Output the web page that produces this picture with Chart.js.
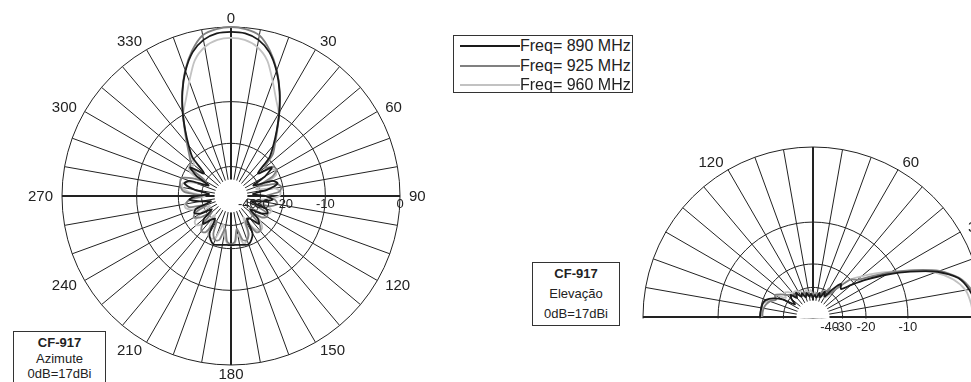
<!DOCTYPE html>
<html>
<head>
<meta charset="utf-8">
<title>CF-917 diagramas de radiação</title>
<script src="https://cdn.jsdelivr.net/npm/chart.js@4/dist/chart.umd.min.js"></script>
<style>
  html, body { margin: 0; padding: 0; background: #fff; width: 971px; height: 382px; overflow: hidden;
    font-family: "Liberation Sans", Arial, sans-serif; color: #222; }
  #azWrap { position: absolute; left: 0; top: 0; width: 462px; height: 382px; }
  #elWrap { position: absolute; left: 633px; top: 137px; width: 360px; height: 360px; }
  .tag { position: absolute; border: 1px solid #333; background: #fff; text-align: center; font-size: 13px; box-sizing: border-box; }
  .tag b { font-weight: bold; }
  #azTag { left: 13px; top: 331px; width: 93px; height: 70px; line-height: 15.5px; padding-top: 3px; }
  #elTag { left: 532px; top: 262px; width: 88px; height: 64px; line-height: 20px; padding-top: 1px; }
  #legend { position: absolute; left: 453px; top: 35px; width: 180px; height: 58px; border: 1px solid #333; box-sizing: border-box; background: #fff; }
  .row { position: absolute; left: 0; width: 180px; height: 20px; }
  .row .ln { position: absolute; left: 6px; top: 9px; width: 60px; height: 2px; }
  .row .tx { position: absolute; left: 66px; top: 0; font-size: 16px; line-height: 20px; white-space: nowrap; }
</style>
</head>
<body>
<div id="azWrap"><canvas id="az"></canvas></div>
<div id="elWrap"><canvas id="el"></canvas></div>
<div id="legend"></div>
<div class="tag" id="azTag"><b>CF-917</b><br>Azimute<br>0dB=17dBi</div>
<div class="tag" id="elTag"><b>CF-917</b><br>Elevação<br>0dB=17dBi</div>
<script>
// ---- series names and colours ----
const seriesNames = ['Freq= 890 MHz', 'Freq= 925 MHz', 'Freq= 960 MHz'];
const seriesColors = ['#1a1a1a', '#808080', '#c2c2c2'];

// ---- radial ticks (dB) ----
const ringTicks = [-40, -30, -20, -10, 0];

// ---- azimuth cut: angle (deg, clockwise from 0) and relative gain (dB) ----
const azAngles = [0, 5, 10, 15, 20, 25, 30, 35, 40, 45, 50, 55, 60, 65, 70, 75, 80, 85,
  90, 95, 100, 105, 110, 115, 120, 125, 130, 135, 140, 145, 150, 155, 160, 165, 170, 175,
  180, 185, 190, 195, 200, 205, 210, 215, 220, 225, 230, 235, 240, 245, 250, 255, 260, 265,
  270, 275, 280, 285, 290, 295, 300, 305, 310, 315, 320, 325, 330, 335, 340, 345, 350, 355];
const azLabelsShown = [0, 30, 60, 90, 120, 150, 180, 210, 240, 270, 300, 330];

const az890 = [-0.5, -0.6, -1.1, -2.2, -4.1, -6.6, -9.6, -12.9, -16.2, -19.5, -27, -21, -25, -33, -23, -21.5, -26, -35,
  -27, -24, -29, -36, -26, -24.5, -27, -34, -27, -25, -30, -31, -23.5, -21.5, -20.4, -20.7, -21, -21.2,
  -21.2, -21.2, -21, -20.7, -20.4, -21.5, -23.5, -31, -29, -25, -27, -34, -27, -24.5, -26, -36, -29, -24,
  -27, -35, -26, -21.5, -23, -33, -25, -21, -27, -19.5, -16.2, -12.9, -9.6, -6.6, -4.1, -2.2, -1.1, -0.6];

const az925 = [0, -0.15, -0.6, -2.0, -4.0, -6.6, -9.6, -12.8, -15.5, -18, -23, -20.5, -20, -22.5, -30, -22, -20.5, -21.5,
  -27, -23, -22, -25, -33, -25, -24, -26, -33, -24.5, -22.5, -23, -30, -24, -22, -22.5, -28, -22.5,
  -21.5, -22.5, -28, -22.5, -22, -24, -30, -23, -22.3, -24.5, -33, -26, -23.5, -25, -32, -23.5, -22.5, -24,
  -30, -22, -20.5, -20, -20, -24, -30, -21, -20, -18, -15.5, -12.8, -9.6, -6.6, -4.0, -2.0, -0.6, -0.15];

const az960 = [-1.15, -1.3, -1.9, -3.2, -5.6, -7.9, -9.8, -12.6, -15.6, -19, -26, -22, -20.5, -21, -26, -32, -23, -21,
  -21.5, -26, -33, -26, -23.5, -24, -28, -35, -26, -23, -22.5, -25, -33, -25, -22, -21, -25, -22,
  -21, -22, -25, -30, -23, -22, -22.5, -26, -33, -25, -22.5, -23, -27, -34, -25, -22, -22, -25,
  -32, -24, -21, -21, -25, -31, -22, -20.5, -21.5, -19, -15.6, -12.6, -9.8, -7.9, -5.6, -3.2, -1.9, -1.3];

// ---- elevation cut: angle above horizon (deg) and relative gain (dB) ----
const elAngles = [0, 5, 10, 15, 20, 25, 30, 35, 40, 45, 50, 55, 60, 65, 70, 75, 80, 85, 90,
  95, 100, 105, 110, 115, 120, 125, 130, 135, 140, 145, 150, 155, 160, 165, 170, 175, 180];
const elLabelsShown = [30, 60, 120];

const el890 = [-0.5, -0.7, -1.2, -2.1, -4.3, -7.9, -12.0, -16.5, -21, -25, -23.5, -28, -34, -31, -36, -33, -37, -35, -37,
  -34, -36, -33, -36, -32, -34, -30, -33, -29, -31, -35, -27, -23.2, -21, -20.3, -20.2, -20.1, -20.0];

const el925 = [-0.3, -0.5, -1.0, -2.0, -4.0, -7.3, -11.2, -15.0, -18.5, -20, -26, -31, -28, -33, -31, -36, -33, -35, -34,
  -37, -33, -35, -32, -34, -33, -31.5, -31, -29, -27.5, -25, -23.2, -24.5, -22.5, -21.5, -21, -20.8, -20.8];

const el960 = [-1.0, -1.2, -1.6, -2.7, -4.6, -7.6, -10.8, -13.8, -17, -20, -26, -32, -35, -32, -36, -34, -37, -33, -35,
  -31.5, -33, -31, -34, -31, -30, -29, -29, -27, -26, -28, -23.3, -24, -22, -20.4, -20.5, -20.6, -20.6];

// ---- radial scale with the logarithmic (ARRL) dB spacing ----
class ArrlRadialScale extends Chart.RadialLinearScale {
  getDistanceFromCenterForValue(value) {
    if (value === null || value === undefined || isNaN(value)) return NaN;
    return this.drawingArea * Math.pow(0.89, -value / 2);
  }
}
ArrlRadialScale.id = 'arrlRadial';
Chart.register(ArrlRadialScale);

const FONT = '"Liberation Sans", Arial, sans-serif';

function radialScaleOptions() {
  return {
    type: 'arrlRadial',
    min: -40, max: 0, startAngle: 0,
    ticks: { display: false, stepSize: 10 },
    pointLabels: { display: false },
    grid: {
      color: (c) => (c.tick && c.tick.value === -40) ? 'rgba(0,0,0,0)' : '#222',
      lineWidth: 1
    },
    angleLines: {
      color: '#222',
      lineWidth: (c) => (c.index % 2 !== 0) ? 0 : (c.index % 18 === 0 ? 2 : 1)
    }
  };
}

function makeDatasets(seriesList) {
  return seriesList.map((data, k) => ({
    label: seriesNames[k],
    data: data,
    borderColor: seriesColors[k],
    backgroundColor: seriesColors[k],
    borderWidth: 1.8,
    fill: false,
    tension: 0.25,
    borderJoinStyle: 'round',
    pointRadius: 0,
    pointHoverRadius: 0
  }));
}

// white centre disc below the -40 dB ring
const holePlugin = {
  id: 'hole',
  beforeDatasetsDraw(chart) {
    const s = chart.scales.r, ctx = chart.ctx;
    ctx.save();
    ctx.beginPath();
    ctx.arc(s.xCenter, s.yCenter, s.getDistanceFromCenterForValue(s.min), 0, Math.PI * 2);
    ctx.fillStyle = '#fff';
    ctx.fill();
    ctx.restore();
  }
};

// angle labels just outside the 0 dB ring, aligned away from the centre
function drawAngleLabels(chart, shown) {
  const s = chart.scales.r, ctx = chart.ctx, R = s.drawingArea;
  ctx.save();
  ctx.font = '15px ' + FONT;
  ctx.fillStyle = '#222';
  ctx.textBaseline = 'middle';
  shown.forEach((v) => {
    const i = chart.data.labels.indexOf(v);
    const p = s.getPointPosition(i, R + 9);
    const dx = p.x - s.xCenter;
    ctx.textAlign = dx > 1 ? 'left' : (dx < -1 ? 'right' : 'center');
    ctx.fillText(String(v), p.x, p.y + 0.5);
  });
  ctx.restore();
}

function drawRingLabels(chart, rightIndex, dy) {
  const s = chart.scales.r, ctx = chart.ctx;
  ctx.save();
  ctx.font = '13px ' + FONT;
  ctx.fillStyle = '#222';
  ctx.textAlign = 'center';
  ctx.textBaseline = 'middle';
  ringTicks.forEach((v) => {
    const p = s.getPointPosition(rightIndex, s.getDistanceFromCenterForValue(v));
    ctx.fillText(String(v), p.x, s.yCenter + dy);
  });
  ctx.restore();
}

const commonOptions = {
  animation: false,
  responsive: true,
  maintainAspectRatio: false,
  devicePixelRatio: 1,
  events: [],
  plugins: { legend: { display: false }, tooltip: { enabled: false } }
};

// ---- azimuth chart ----
new Chart(document.getElementById('az'), {
  type: 'radar',
  data: { labels: azAngles, datasets: makeDatasets([az890, az925, az960]) },
  options: Object.assign({}, commonOptions, {
    layout: { padding: { left: 62, top: 27, right: 62, bottom: 17 } },
    scales: { r: radialScaleOptions() }
  }),
  plugins: [holePlugin, {
    id: 'azText',
    afterDraw(chart) {
      drawAngleLabels(chart, azLabelsShown);
      drawRingLabels(chart, chart.data.labels.indexOf(90), 8);
    }
  }]
});

// ---- elevation chart: upper half plane, 0 deg at the right, 90 deg at the top ----
// radar slots run clockwise from the top in 5 deg steps; slot k points at elevation 90 - 5k
const elSlotAngles = azAngles.map((c) => (450 - c) % 360);
function toSlots(values) {
  return elSlotAngles.map((a) => {
    const j = elAngles.indexOf(a);
    return j >= 0 ? values[j] : null;
  });
}

new Chart(document.getElementById('el'), {
  type: 'radar',
  data: { labels: elSlotAngles, datasets: makeDatasets([el890, el925, el960].map(toSlots)) },
  options: Object.assign({}, commonOptions, {
    layout: { padding: 10 },
    scales: { r: radialScaleOptions() }
  }),
  plugins: [{
    id: 'halfPlane',
    beforeDraw(chart) {
      const s = chart.scales.r, ctx = chart.ctx;
      ctx.save();
      ctx.beginPath();
      ctx.rect(0, 0, chart.width, s.yCenter + 1.5);
      ctx.clip();
    },
    afterDatasetsDraw(chart) {
      chart.ctx.restore();
    }
  }, holePlugin, {
    id: 'elText',
    afterDraw(chart) {
      drawAngleLabels(chart, elLabelsShown);
      drawRingLabels(chart, chart.data.labels.indexOf(0), 10);
    }
  }]
});

// ---- legend ----
const legend = document.getElementById('legend');
seriesNames.forEach((name, k) => {
  const row = document.createElement('div');
  row.className = 'row';
  row.style.top = (0 + k * 19.5) + 'px';
  const ln = document.createElement('span');
  ln.className = 'ln';
  ln.style.background = seriesColors[k];
  const tx = document.createElement('span');
  tx.className = 'tx';
  tx.textContent = name;
  row.appendChild(ln);
  row.appendChild(tx);
  legend.appendChild(row);
});
</script>
</body>
</html>
